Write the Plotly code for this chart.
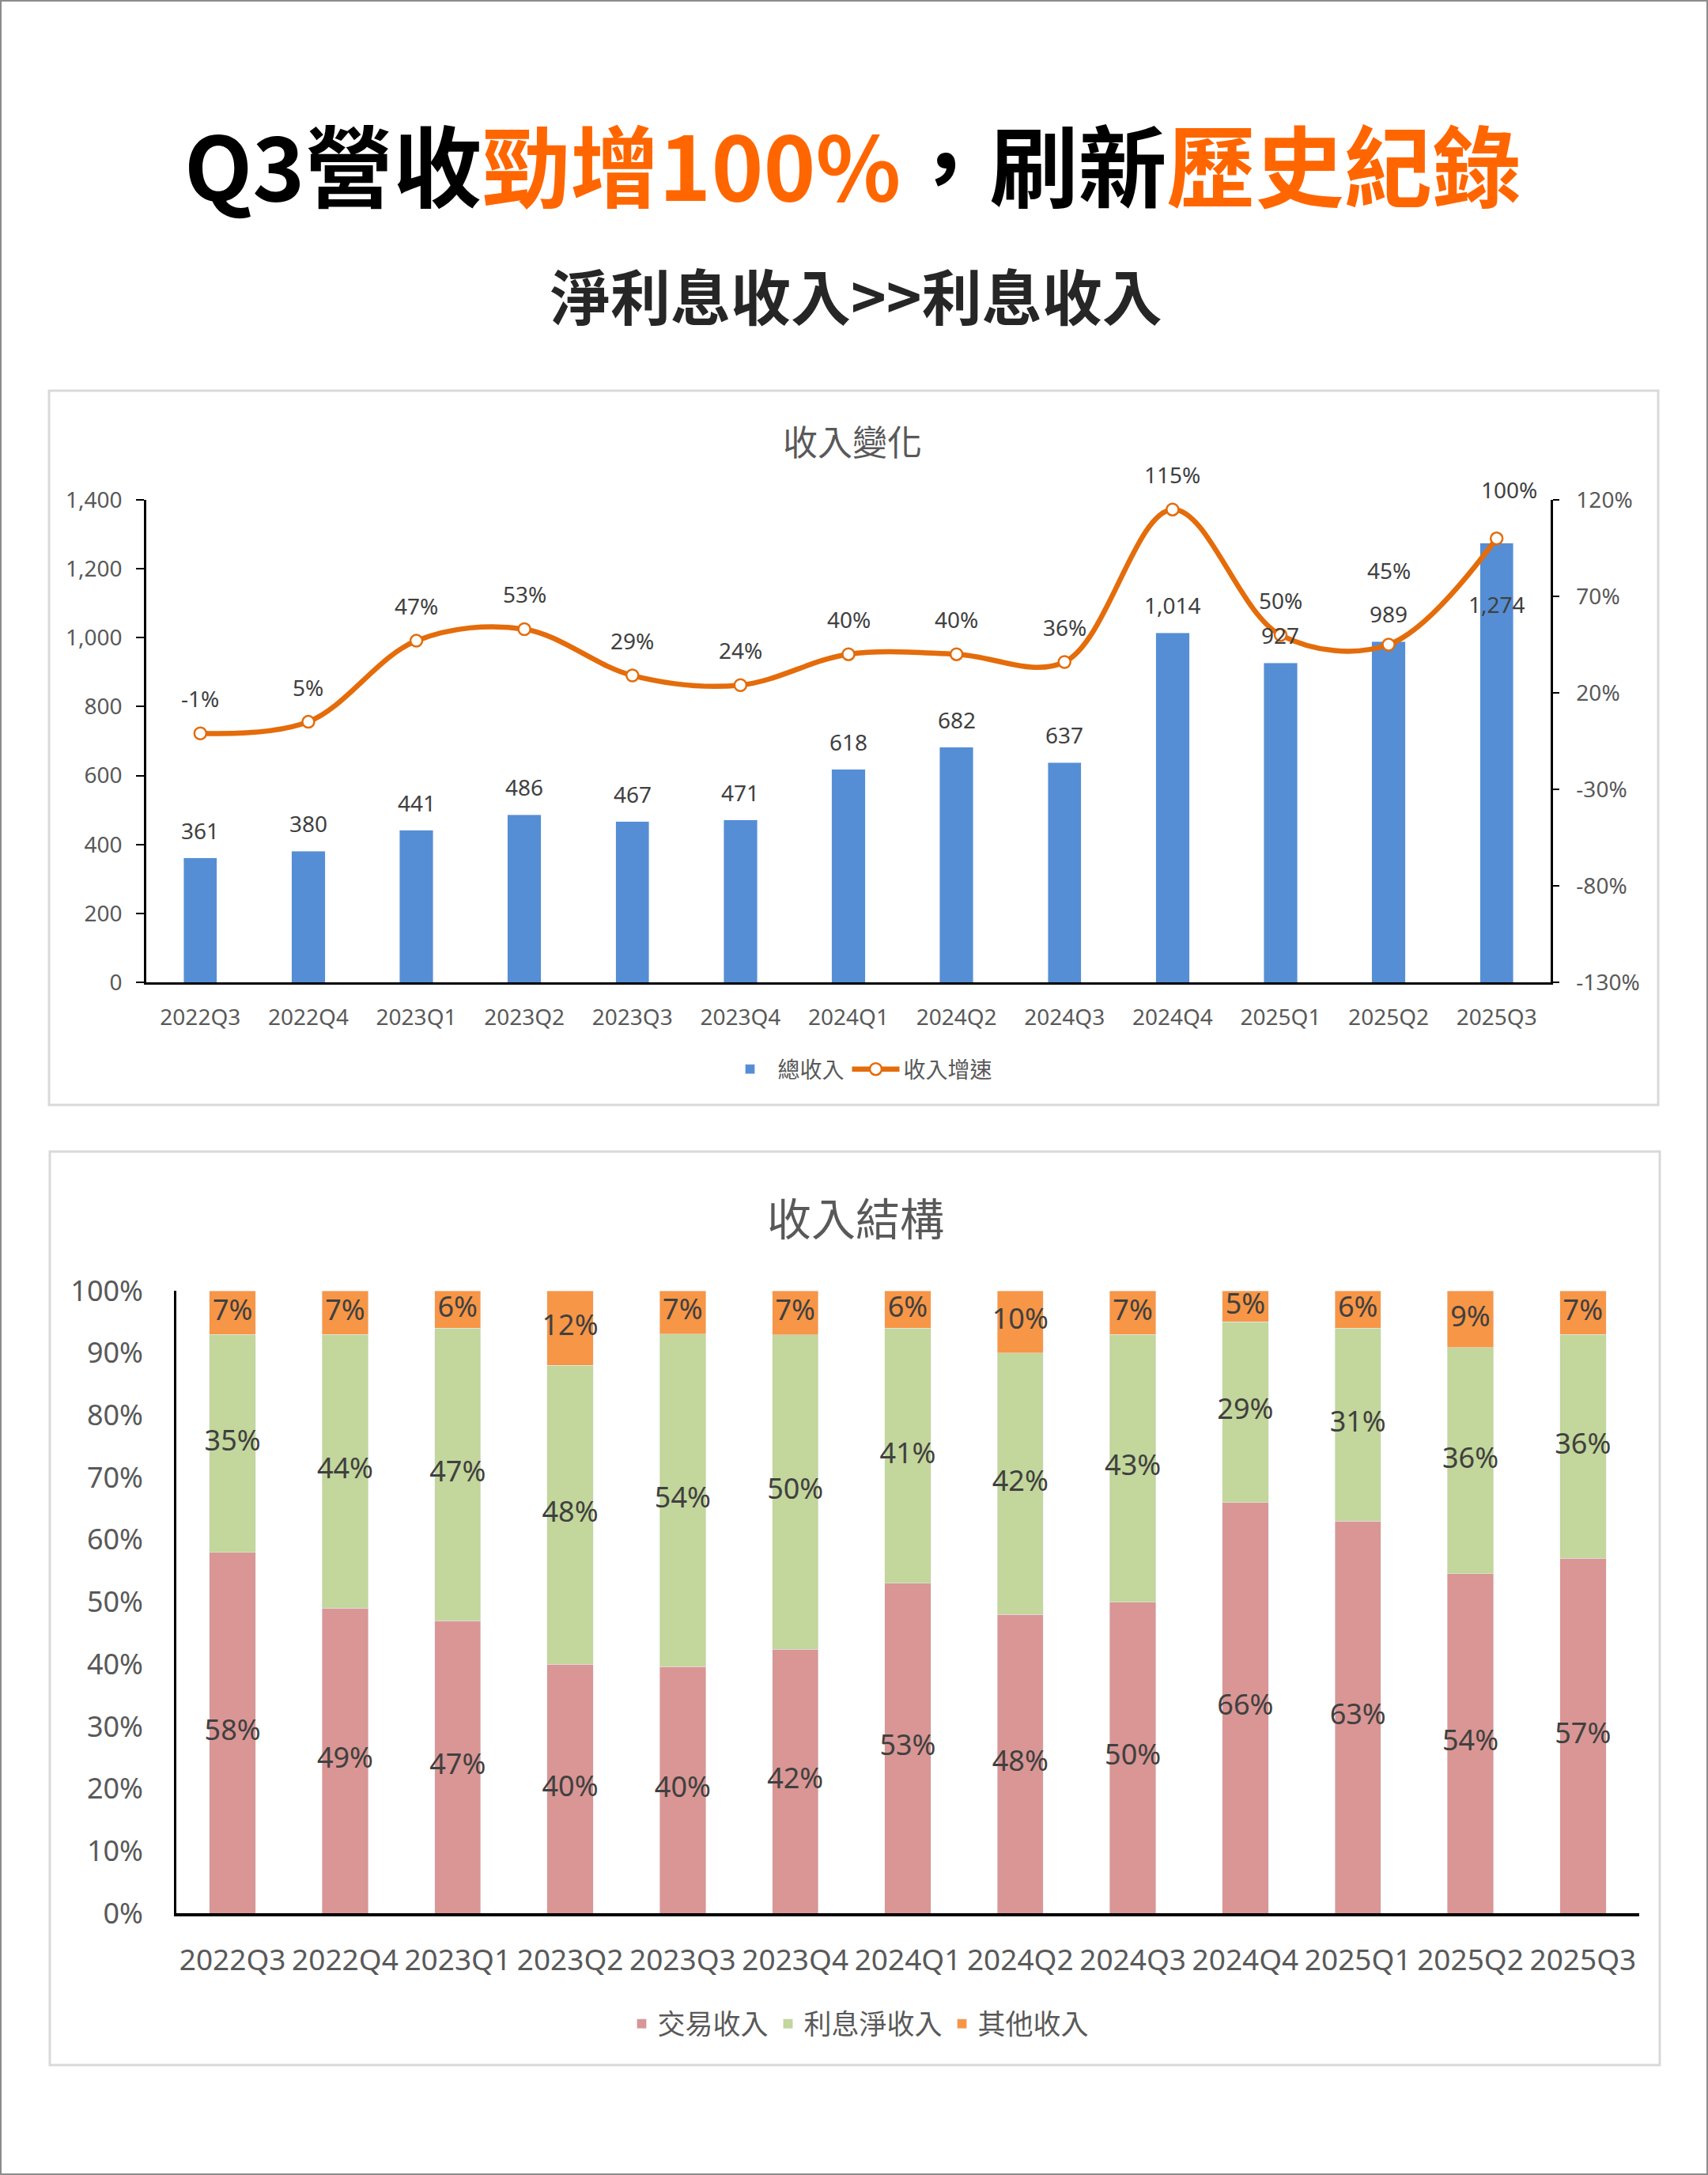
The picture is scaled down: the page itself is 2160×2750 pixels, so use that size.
import plotly.graph_objects as go

# ---------------- data ----------------
quarters = ["2022Q3", "2022Q4", "2023Q1", "2023Q2", "2023Q3", "2023Q4", "2024Q1",
            "2024Q2", "2024Q3", "2024Q4", "2025Q1", "2025Q2", "2025Q3"]
total_revenue = [361, 380, 441, 486, 467, 471, 618, 682, 637, 1014, 927, 989, 1274]
revenue_growth = [-1, 5, 47, 53, 29, 24, 40, 40, 36, 115, 50, 45, 100]
trade_share = [58, 49, 47, 40, 40, 42, 53, 48, 50, 66, 63, 54, 57]
interest_share = [35, 44, 47, 48, 54, 50, 41, 42, 43, 29, 31, 36, 36]
other_share = [7, 7, 6, 12, 7, 7, 6, 10, 7, 5, 6, 9, 7]
growth_ticks = [-130, -80, -30, 20, 70, 120]

W, H = 2160, 2750
def fx(px):
    return px / W
def fy(py):
    return 1 - py / H

LATIN = "Noto Sans, Noto Sans CJK TC, sans-serif"
CJK = "Noto Sans CJK TC, Noto Sans, sans-serif"
TICK_C = "#595959"
LABEL_C = "#404040"
BLUE = "#558ED5"
ORANGE_LINE = "#E46C0A"
C_TRADE, C_INT, C_OTHER = "#D99694", "#C3D69B", "#F79646"

fig = go.Figure()

# ---------------- top chart ----------------
fig.add_trace(go.Bar(
    x=quarters, y=total_revenue, name="總收入", marker_color=BLUE, width=0.31,
    xaxis="x", yaxis="y", legend="legend",
))
fig.add_trace(go.Scatter(
    x=quarters, y=revenue_growth, name="收入增速", mode="lines+markers",
    line=dict(color=ORANGE_LINE, width=6.5, shape="spline", smoothing=1.0),
    marker=dict(size=15, color="white", line=dict(color=ORANGE_LINE, width=2.5)),
    xaxis="x", yaxis="y2", legend="legend",
))

annotations = []
bar_label_shift = {"2025Q3": -77}
for q, v in zip(quarters, total_revenue):
    annotations.append(dict(
        x=q, y=v, xref="x", yref="y", text=f"{v:,}", showarrow=False,
        yanchor="middle", yshift=bar_label_shift.get(q, 35),
        font=dict(family=LATIN, size=28, color=LABEL_C)))
line_label_shift = {"2025Q2": (0, 94), "2025Q3": (16, 62)}
for q, g in zip(quarters, revenue_growth):
    xs, ys = line_label_shift.get(q, (0, 44))
    annotations.append(dict(
        x=q, y=g, xref="x", yref="y2", text=f"{g}%", showarrow=False,
        yanchor="middle", yshift=ys, xshift=xs,
        font=dict(family=LATIN, size=28, color=LABEL_C)))

# ---------------- bottom chart (100% stacked) ----------------
totals = [a + b + c for a, b, c in zip(trade_share, interest_share, other_share)]
n_trade = [a / t * 100 for a, t in zip(trade_share, totals)]
n_int = [b / t * 100 for b, t in zip(interest_share, totals)]
n_other = [c / t * 100 for c, t in zip(other_share, totals)]

for name, vals, col in [("交易收入", n_trade, C_TRADE),
                        ("利息淨收入", n_int, C_INT),
                        ("其他收入", n_other, C_OTHER)]:
    fig.add_trace(go.Bar(
        x=quarters, y=vals, name=name, marker_color=col, width=0.41,
        xaxis="x2", yaxis="y3", legend="legend2",
    ))

mid_trade = [a / 2 for a in n_trade]
mid_int = [a + b / 2 for a, b in zip(n_trade, n_int)]
mid_other = [a + b + c / 2 for a, b, c in zip(n_trade, n_int, n_other)]
for mids, raw in [(mid_trade, trade_share), (mid_int, interest_share), (mid_other, other_share)]:
    fig.add_trace(go.Scatter(
        x=quarters, y=mids, mode="text", text=[f"{v}%" for v in raw],
        textposition="middle center",
        textfont=dict(family=LATIN, size=36, color=LABEL_C),
        showlegend=False, hoverinfo="skip", xaxis="x2", yaxis="y3",
    ))

# ---------------- titles ----------------
annotations.append(dict(
    x=fx(1078), y=fy(205), xref="paper", yref="paper", showarrow=False,
    text=("<b>Q3營收<span style='color:#FF6600'>勁增100%</span>，刷新"
          "<span style='color:#FF6600'>歷史紀錄</span></b>"),
    font=dict(family=CJK, size=112, color="#000000"), xanchor="center", yanchor="middle"))
annotations.append(dict(
    x=fx(1083), y=fy(372), xref="paper", yref="paper", showarrow=False,
    text="<b>淨利息收入>>利息收入</b>",
    font=dict(family=CJK, size=76, color="#262626"), xanchor="center", yanchor="middle"))
annotations.append(dict(
    x=fx(1078), y=fy(557), xref="paper", yref="paper", showarrow=False,
    text="收入變化", font=dict(family=CJK, size=44, color=TICK_C),
    xanchor="center", yanchor="middle"))
annotations.append(dict(
    x=fx(1082), y=fy(1537), xref="paper", yref="paper", showarrow=False,
    text="收入結構", font=dict(family=CJK, size=56, color=TICK_C),
    xanchor="center", yanchor="middle"))

shapes = [
    dict(type="rect", xref="paper", yref="paper", x0=fx(1), x1=fx(2159), y0=fy(1), y1=fy(2749),
         line=dict(color="#8C8C8C", width=2), fillcolor="rgba(0,0,0,0)", layer="below"),
    dict(type="rect", xref="paper", yref="paper", x0=fx(62), x1=fx(2097), y0=fy(494), y1=fy(1397),
         line=dict(color="#D9D9D9", width=3), fillcolor="rgba(0,0,0,0)", layer="below"),
    dict(type="rect", xref="paper", yref="paper", x0=fx(63), x1=fx(2099), y0=fy(1456), y1=fy(2611),
         line=dict(color="#D9D9D9", width=3), fillcolor="rgba(0,0,0,0)", layer="below"),
]

fig.update_layout(
    width=W, height=H, margin=dict(l=0, r=0, t=0, b=0, autoexpand=False),
    paper_bgcolor="white", plot_bgcolor="white",
    font=dict(family=LATIN, color=TICK_C),
    barmode="stack", bargap=0.5,
    annotations=annotations, shapes=shapes,
    xaxis=dict(domain=[fx(185), fx(1961)], anchor="y", type="category",
               range=[-0.5, len(quarters) - 0.5],
               showline=True, linecolor="black", linewidth=2.5, ticks="",
               tickfont=dict(size=28, color=TICK_C), ticklabelstandoff=18,
               showgrid=False, zeroline=False),
    yaxis=dict(domain=[fy(1242), fy(632)], anchor="x", range=[0, 1400], dtick=200,
               tickformat=",", showline=True, linecolor="black", linewidth=2.5,
               ticks="outside", ticklen=10, tickwidth=2, tickcolor="black",
               tickfont=dict(size=28, color=TICK_C), ticklabelstandoff=12,
               showgrid=False, zeroline=False),
    yaxis2=dict(overlaying="y", side="right", anchor="x",
                range=[growth_ticks[0], growth_ticks[-1]],
                tickmode="array", tickvals=growth_ticks,
                ticktext=[f"{v}%" for v in growth_ticks],
                showline=True, linecolor="black", linewidth=2.5,
                ticks="outside", ticklen=8, tickwidth=2, tickcolor="black",
                tickfont=dict(size=28, color=TICK_C), ticklabelstandoff=16,
                showgrid=False, zeroline=False),
    xaxis2=dict(domain=[fx(223), fx(2073)], anchor="y3", type="category",
                range=[-0.5, len(quarters) - 0.5],
                showline=True, linecolor="black", linewidth=4, ticks="",
                tickfont=dict(size=37, color=TICK_C), ticklabelstandoff=24,
                showgrid=False, zeroline=False),
    yaxis3=dict(domain=[fy(2419), fy(1632)], anchor="x2", range=[0, 100], dtick=10,
                ticksuffix="%", showline=True, linecolor="black", linewidth=2.5, ticks="",
                tickfont=dict(size=36, color=TICK_C), ticklabelstandoff=32,
                showgrid=False, zeroline=False),
    legend=dict(orientation="h", x=fx(1087), y=fy(1352), xanchor="center", yanchor="middle",
                font=dict(family=CJK, size=28, color=TICK_C), bgcolor="rgba(0,0,0,0)",
                traceorder="normal", itemwidth=60),
    legend2=dict(orientation="h", x=fx(1087), y=fy(2559), xanchor="center", yanchor="middle",
                 font=dict(family=CJK, size=35, color=TICK_C), bgcolor="rgba(0,0,0,0)",
                 traceorder="normal", itemwidth=30),
)

fig.write_html("out.html")
